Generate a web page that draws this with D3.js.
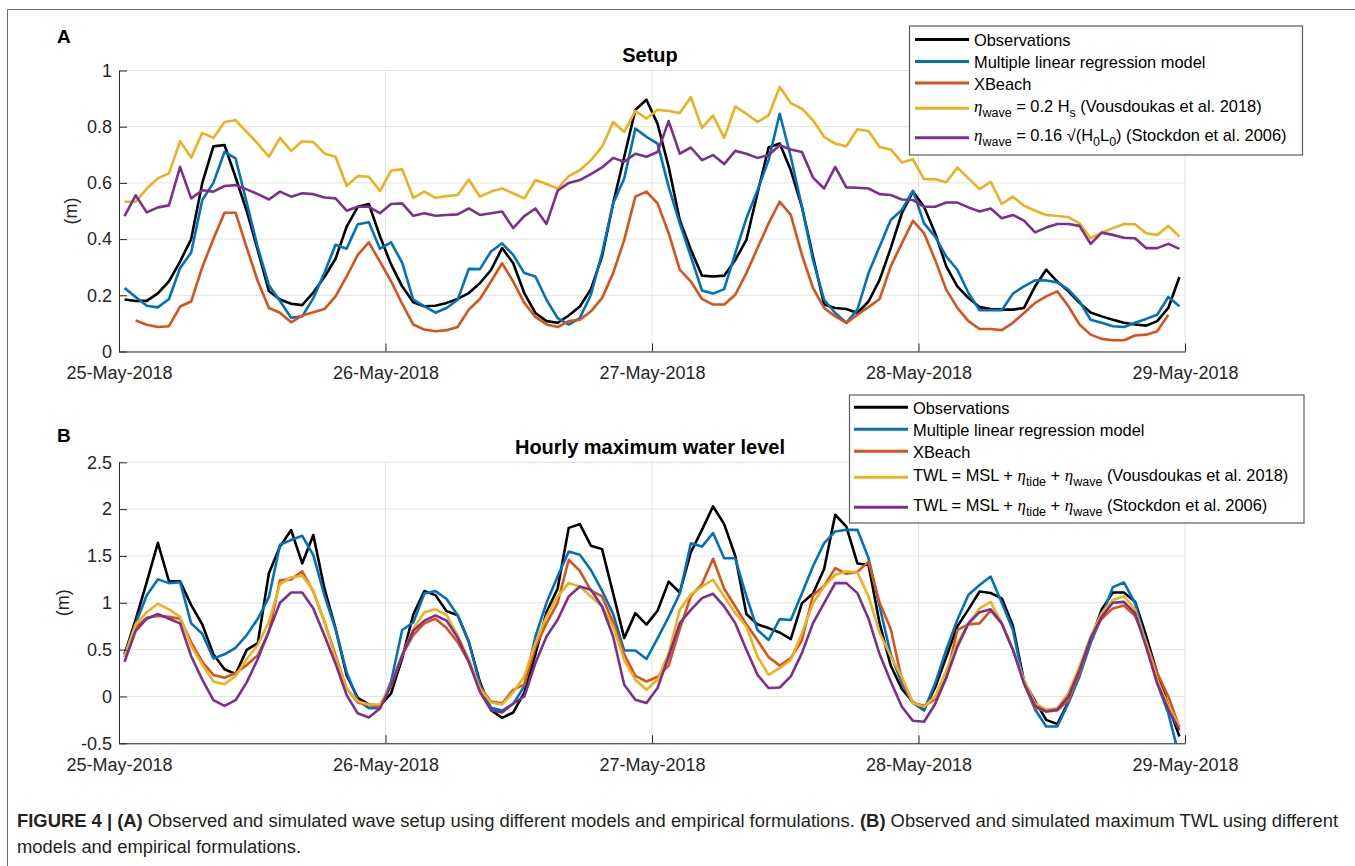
<!DOCTYPE html>
<html>
<head>
<meta charset="utf-8">
<script src="https://cdn.jsdelivr.net/npm/d3@7"></script>
<style>
  body { margin: 0; background: #fff; }
  svg text { font-family: "Liberation Sans", Arial, sans-serif; }
</style>
</head>
<body>
<div id="fig"></div>
<script>
// tick labels and series (hourly values; first sample at 00:30 on 25 May)
const dayTicks = ["25-May-2018", "26-May-2018", "27-May-2018", "28-May-2018", "29-May-2018"];
const setupYTicks = [0, 0.2, 0.4, 0.6, 0.8, 1];
const twlYTicks = [-0.5, 0, 0.5, 1, 1.5, 2, 2.5];
const seriesColors = ["#000000", "#0072BD", "#D95319", "#EDB120", "#7E2F8E"];

// (A) Setup (m)
const setupObs = [0.185,0.18,0.18,0.207,0.25,0.32,0.40,0.60,0.73,0.735,0.62,0.50,0.36,0.215,0.185,0.17,0.165,0.21,0.265,0.33,0.444,0.515,0.525,0.41,
  0.31,0.232,0.175,0.161,0.163,0.173,0.187,0.208,0.243,0.29,0.368,0.314,0.208,0.137,0.108,0.102,0.128,0.16,0.222,0.338,0.527,0.693,0.86,0.896,
  0.81,0.657,0.468,0.362,0.27,0.267,0.27,0.326,0.397,0.563,0.726,0.74,0.645,0.515,0.338,0.167,0.155,0.151,0.137,0.178,0.255,0.368,0.492,0.569,
  0.515,0.421,0.303,0.232,0.19,0.158,0.151,0.149,0.149,0.155,0.232,0.291,0.249,0.214,0.173,0.139,0.125,0.113,0.102,0.096,0.092,0.108,0.155,0.265];
const setupMLR = [0.226,0.194,0.163,0.157,0.187,0.297,0.352,0.539,0.60,0.71,0.687,0.53,0.37,0.236,0.18,0.12,0.125,0.19,0.28,0.38,0.366,0.453,0.46,0.366,
  0.388,0.316,0.185,0.161,0.138,0.155,0.184,0.294,0.293,0.356,0.385,0.344,0.279,0.267,0.184,0.119,0.096,0.119,0.202,0.35,0.527,0.616,0.793,0.764,
  0.74,0.586,0.456,0.338,0.217,0.206,0.222,0.35,0.474,0.574,0.681,0.846,0.693,0.515,0.326,0.184,0.137,0.102,0.149,0.279,0.374,0.468,0.504,0.572,
  0.456,0.409,0.338,0.291,0.208,0.147,0.147,0.147,0.206,0.232,0.253,0.253,0.246,0.22,0.178,0.113,0.102,0.09,0.087,0.102,0.116,0.131,0.194,0.161];
const setupXBeach = [null,0.11,0.095,0.087,0.09,0.16,0.178,0.30,0.40,0.494,0.494,0.37,0.25,0.155,0.138,0.104,0.128,0.14,0.151,0.196,0.267,0.344,0.388,0.32,
  0.25,0.17,0.096,0.078,0.072,0.076,0.087,0.149,0.187,0.249,0.314,0.249,0.173,0.123,0.096,0.087,0.108,0.113,0.143,0.19,0.279,0.397,0.551,0.569,
  0.527,0.421,0.291,0.249,0.187,0.167,0.167,0.202,0.279,0.368,0.456,0.533,0.486,0.344,0.226,0.155,0.125,0.102,0.131,0.158,0.187,0.303,0.385,0.465,
  0.421,0.326,0.22,0.155,0.108,0.08,0.08,0.076,0.102,0.137,0.173,0.196,0.214,0.161,0.096,0.06,0.045,0.04,0.04,0.057,0.06,0.072,0.131,null];
const setupVous = [0.533,0.533,0.58,0.616,0.634,0.748,0.69,0.778,0.76,0.817,0.823,0.781,0.74,0.693,0.76,0.714,0.748,0.745,0.705,0.693,0.59,0.624,0.622,0.571,
  0.643,0.649,0.547,0.569,0.547,0.553,0.557,0.612,0.551,0.569,0.58,0.563,0.545,0.61,0.596,0.58,0.624,0.645,0.681,0.728,0.817,0.781,0.856,0.829,
  0.86,0.856,0.849,0.905,0.796,0.84,0.76,0.872,0.846,0.817,0.84,0.941,0.884,0.864,0.823,0.764,0.74,0.73,0.791,0.785,0.728,0.719,0.673,0.684,
  0.613,0.613,0.602,0.655,0.616,0.578,0.604,0.525,0.551,0.519,0.501,0.486,0.482,0.478,0.456,0.403,0.423,0.439,0.454,0.453,0.421,0.415,0.447,0.409];
const setupStock = [0.482,0.556,0.495,0.513,0.52,0.657,0.545,0.574,0.569,0.589,0.592,0.577,0.56,0.541,0.569,0.551,0.563,0.56,0.548,0.545,0.501,0.515,0.515,0.492,
  0.525,0.527,0.483,0.492,0.483,0.486,0.488,0.509,0.486,0.492,0.498,0.439,0.482,0.509,0.454,0.572,0.6,0.61,0.631,0.655,0.689,0.675,0.704,0.693,
  0.71,0.82,0.704,0.726,0.681,0.699,0.667,0.714,0.704,0.689,0.699,0.734,0.719,0.71,0.619,0.58,0.657,0.584,0.583,0.58,0.56,0.557,0.541,0.539,
  0.515,0.515,0.53,0.53,0.513,0.498,0.509,0.474,0.486,0.466,0.424,0.441,0.454,0.454,0.447,0.383,0.423,0.415,0.405,0.403,0.368,0.368,0.383,0.365];

// (B) Hourly maximum water level (m)
const twlObs = [0.45,0.82,1.22,1.64,1.23,1.23,0.975,0.77,0.45,0.29,0.24,0.497,0.57,1.315,1.6,1.777,1.42,1.724,1.153,0.726,0.228,-0.014,-0.085,-0.1,
  0.032,0.406,0.875,1.125,1.082,0.911,0.868,0.584,0.157,-0.146,-0.228,-0.171,0.04,0.45,0.9,1.15,1.8,1.84,1.61,1.573,1.1,0.623,0.89,0.767,
  0.915,1.226,1.11,1.54,1.778,2.03,1.84,1.5,0.88,0.77,0.73,0.683,0.612,0.995,1.1,1.36,1.94,1.813,1.42,1.404,0.78,0.33,0.08,-0.06,
  -0.14,0.096,0.42,0.75,0.93,1.12,1.105,1.048,0.755,0.165,-0.05,-0.25,-0.295,-0.06,0.25,0.6,0.93,1.11,1.11,1.012,0.648,0.25,-0.1,-0.428];
const twlMLR = [0.45,0.78,1.08,1.25,1.21,1.22,0.78,0.67,0.405,0.45,0.52,0.655,0.83,1.06,1.62,1.67,1.715,1.51,1.08,0.72,0.26,-0.04,-0.125,-0.125,
  0.157,0.71,0.79,1.1,1.125,1.04,0.868,0.584,0.13,-0.12,-0.15,-0.08,0.11,0.64,1.0,1.28,1.548,1.512,1.35,1.13,0.88,0.49,0.49,0.4,
  0.62,0.85,1.1,1.635,1.6,1.745,1.475,1.475,1.07,0.71,0.603,0.826,0.817,1.1,1.39,1.637,1.762,1.779,1.779,1.477,0.96,0.45,0.14,-0.07,
  -0.15,0.14,0.5,0.82,1.085,1.19,1.28,1.0,0.71,0.14,-0.14,-0.32,-0.32,-0.07,0.214,0.57,0.854,1.167,1.217,0.996,0.57,0.14,-0.18,-0.65];
const twlXBeach = [0.42,0.74,0.84,0.86,0.85,0.83,0.58,0.37,0.23,0.2,0.25,0.335,0.44,0.69,1.24,1.25,1.335,1.12,0.8,0.44,0.085,-0.064,-0.093,-0.11,
  0.12,0.44,0.655,0.78,0.83,0.73,0.58,0.37,0.1,-0.055,-0.072,0.07,0.13,0.53,0.78,1.0,1.46,1.34,1.13,1.07,0.79,0.45,0.22,0.16,
  0.21,0.33,0.72,1.07,1.2,1.47,1.15,0.96,0.77,0.6,0.42,0.33,0.41,0.6,1.08,1.18,1.37,1.31,1.33,1.44,1.0,0.72,0.18,-0.07,
  -0.1,-0.03,0.2,0.71,0.77,0.78,0.92,0.78,0.5,0.15,-0.12,-0.16,-0.15,-0.04,0.25,0.62,0.83,0.94,0.97,0.86,0.58,0.25,0.0,-0.33];
const twlVous = [0.42,0.77,0.9,0.99,0.93,0.85,0.54,0.34,0.16,0.13,0.22,0.4,0.55,0.8,1.2,1.27,1.29,1.13,0.8,0.41,0.085,-0.05,-0.085,-0.085,
  0.12,0.44,0.72,0.9,0.93,0.87,0.65,0.4,0.085,-0.064,-0.085,0.043,0.214,0.569,0.854,1.068,1.21,1.174,1.068,0.961,0.747,0.391,0.178,0.071,
  0.178,0.463,0.925,1.09,1.174,1.246,1.068,0.89,0.747,0.427,0.231,0.302,0.391,0.676,0.996,1.174,1.299,1.335,1.324,1.068,0.68,0.43,0.21,-0.07,
  -0.11,0.0,0.28,0.57,0.78,0.94,1.01,0.78,0.5,0.18,-0.07,-0.14,-0.125,0.036,0.32,0.64,0.89,1.03,1.07,0.93,0.57,0.18,-0.1,-0.32];
const twlStock = [0.37,0.7,0.83,0.88,0.83,0.78,0.43,0.18,-0.04,-0.1,-0.04,0.15,0.4,0.7,1.0,1.11,1.11,0.94,0.65,0.35,0.014,-0.18,-0.224,-0.128,
  0.12,0.44,0.7,0.81,0.865,0.81,0.63,0.37,0.05,-0.146,-0.17,-0.075,0.0,0.356,0.64,0.819,1.068,1.174,1.139,0.961,0.64,0.125,-0.036,-0.07,
  0.09,0.427,0.783,0.925,1.05,1.096,0.961,0.783,0.498,0.231,0.09,0.096,0.214,0.463,0.783,0.996,1.21,1.21,1.103,0.83,0.45,0.16,-0.11,-0.26,
  -0.27,-0.08,0.2,0.53,0.78,0.9,0.93,0.78,0.5,0.14,-0.1,-0.16,-0.14,0.0,0.28,0.62,0.85,1.0,1.01,0.89,0.53,0.14,-0.14,-0.36];

// legend labels: k = "eta" (greek), "sub" (subscript), otherwise normal text
const legendA = [
  [{t: "Observations"}],
  [{t: "Multiple linear regression model"}],
  [{t: "XBeach"}],
  [{t: "η", k: "eta"}, {t: "wave", k: "sub"}, {t: " = 0.2 H"}, {t: "s", k: "sub"}, {t: " (Vousdoukas et al. 2018)"}],
  [{t: "η", k: "eta"}, {t: "wave", k: "sub"}, {t: " = 0.16 √(H"}, {t: "0", k: "sub"}, {t: "L"}, {t: "0", k: "sub"}, {t: ") (Stockdon et al. 2006)"}]
];
const legendB = [
  [{t: "Observations"}],
  [{t: "Multiple linear regression model"}],
  [{t: "XBeach"}],
  [{t: "TWL = MSL + "}, {t: "η", k: "eta"}, {t: "tide", k: "sub"}, {t: " + "}, {t: "η", k: "eta"}, {t: "wave", k: "sub"}, {t: " (Vousdoukas et al. 2018)"}],
  [{t: "TWL = MSL + "}, {t: "η", k: "eta"}, {t: "tide", k: "sub"}, {t: " + "}, {t: "η", k: "eta"}, {t: "wave", k: "sub"}, {t: " (Stockdon et al. 2006)"}]
];

const parseDay = d3.utcParse("%d-%b-%Y");
const hourTimes = d3.range(96).map(i => new Date(Date.UTC(2018, 4, 25, i, 30)));

const svg = d3.select("#fig").append("svg")
    .attr("width", 1355)
    .attr("height", 866);

// figure frame
svg.append("path")
    .attr("d", "M7.5,866V9.5H1355")
    .attr("fill", "none")
    .attr("stroke", "#6b6b6b")
    .attr("stroke-width", 1);

function drawPanel(opt) {
    const x = d3.scaleUtc()
        .domain([parseDay(dayTicks[0]), parseDay(dayTicks[dayTicks.length - 1])])
        .range([opt.left, opt.right]);
    const y = d3.scaleLinear()
        .domain(opt.yDomain)
        .range([opt.bottom, opt.top]);

    const g = svg.append("g");

    // grid
    g.append("g").selectAll("line").data(opt.yTicks).join("line")
        .attr("x1", opt.left).attr("x2", opt.right)
        .attr("y1", d => y(d)).attr("y2", d => y(d))
        .attr("stroke", "#e2e2e2");
    g.append("g").selectAll("line").data(dayTicks.slice(1)).join("line")
        .attr("x1", d => x(parseDay(d))).attr("x2", d => x(parseDay(d)))
        .attr("y1", opt.top).attr("y2", opt.bottom)
        .attr("stroke", "#e2e2e2");

    svg.append("clipPath").attr("id", "clip-" + opt.id)
        .append("rect")
        .attr("x", opt.left).attr("y", opt.top)
        .attr("width", opt.right - opt.left).attr("height", opt.bottom - opt.top);

    const line = d3.line()
        .defined(d => d[1] != null)
        .x(d => x(d[0]))
        .y(d => y(d[1]));

    opt.series.forEach((s, i) => {
        g.append("path")
            .datum(hourTimes.map((t, k) => [t, s[k]]))
            .attr("clip-path", "url(#clip-" + opt.id + ")")
            .attr("fill", "none")
            .attr("stroke", seriesColors[i])
            .attr("stroke-width", 2.6)
            .attr("stroke-linejoin", "round")
            .attr("d", line);
    });

    // axes
    g.append("g")
        .attr("transform", "translate(0," + opt.bottom + ")")
        .call(d3.axisBottom(x)
            .tickValues(dayTicks.map(parseDay))
            .tickFormat((d, i) => dayTicks[i])
            .tickSize(-8).tickSizeOuter(0).tickPadding(opt.xPad))
        .call(a => a.attr("font-size", 18).attr("font-family", null).attr("color", "#262626"));

    g.append("g")
        .attr("transform", "translate(" + opt.left + ",0)")
        .call(d3.axisLeft(y)
            .tickValues(opt.yTicks)
            .tickFormat(d => String(d))
            .tickSize(-8).tickSizeOuter(0).tickPadding(7))
        .call(a => a.attr("font-size", 18).attr("font-family", null).attr("color", "#262626"));

    svg.append("text")
        .attr("transform", "translate(" + opt.ylabX + "," + ((opt.top + opt.bottom) / 2) + ") rotate(-90)")
        .attr("text-anchor", "middle")
        .attr("font-size", 18)
        .attr("fill", "#262626")
        .text("(m)");

    svg.append("text")
        .attr("x", (opt.left + opt.right) / 2 - 2)
        .attr("y", opt.titleY)
        .attr("text-anchor", "middle")
        .attr("font-size", 20)
        .attr("font-weight", "bold")
        .attr("fill", "#000")
        .text(opt.title);

    svg.append("text")
        .attr("x", 57)
        .attr("y", opt.panelY)
        .attr("font-size", 19)
        .attr("font-weight", "bold")
        .text(opt.panel);
}

function drawLegend(box, rows) {
    svg.append("rect")
        .attr("x", box.x).attr("y", box.y)
        .attr("width", box.w).attr("height", box.h)
        .attr("fill", "#fff")
        .attr("stroke", "#5c5c5c")
        .attr("stroke-width", 1.2);
    rows.forEach((parts, i) => {
        const ly = box.rowY[i];
        svg.append("line")
            .attr("x1", box.lx0).attr("x2", box.lx1)
            .attr("y1", ly).attr("y2", ly)
            .attr("stroke", seriesColors[i])
            .attr("stroke-width", 3);
        const hasSub = parts.some(p => p.k === "sub");
        const t = svg.append("text")
            .attr("x", box.tx)
            .attr("y", ly + (hasSub ? 3.5 : 6.8))
            .attr("font-size", 16.4)
            .attr("fill", "#000");
        let shift = 0;
        parts.forEach(p => {
            const ts = t.append("tspan").text(p.t);
            const target = p.k === "sub" ? 5 : 0;
            if (target !== shift) { ts.attr("dy", target - shift); shift = target; }
            if (p.k === "sub") ts.attr("font-size", 12.5);
            if (p.k === "eta") ts.attr("font-family", "'Liberation Serif', serif").attr("font-style", "italic").attr("font-size", 17);
        });
    });
}

drawPanel({
    id: "a", left: 119, right: 1185, top: 70.5, bottom: 351.5,
    yDomain: [0, 1], yTicks: setupYTicks, xPad: 15,
    series: [setupObs, setupMLR, setupXBeach, setupVous, setupStock],
    title: "Setup", titleY: 62, panel: "A", panelY: 43, ylabX: 77
});
drawPanel({
    id: "b", left: 119, right: 1185, top: 462.3, bottom: 743.3,
    yDomain: [-0.5, 2.5], yTicks: twlYTicks, xPad: 14.5,
    series: [twlObs, twlMLR, twlXBeach, twlVous, twlStock],
    title: "Hourly maximum water level", titleY: 454, panel: "B", panelY: 442, ylabX: 69
});

drawLegend({x: 909.5, y: 26, w: 393, h: 129, lx0: 915, lx1: 969, tx: 974,
            rowY: [39.5, 61.5, 83, 108.3, 137.7]}, legendA);
drawLegend({x: 849.5, y: 395, w: 454.5, h: 128, lx0: 854, lx1: 908, tx: 913,
            rowY: [407.3, 429.3, 451.3, 477.3, 507.3]}, legendB);

// caption: condensed look, squeeze glyphs to the measured line width
const capFont = "'Liberation Sans Narrow', 'Liberation Sans', Arial, sans-serif";
const cap1 = svg.append("text")
    .attr("x", 17).attr("y", 827)
    .attr("font-size", 17.5).attr("font-family", capFont).attr("fill", "#231f20");
cap1.append("tspan").attr("font-weight", "bold").text("FIGURE 4 | (A)");
cap1.append("tspan").text(" Observed and simulated wave setup using different models and empirical formulations. ");
cap1.append("tspan").attr("font-weight", "bold").text("(B)");
cap1.append("tspan").text(" Observed and simulated maximum TWL using different");
const cap2 = svg.append("text")
    .attr("x", 17).attr("y", 853)
    .attr("font-size", 17.5).attr("font-family", capFont).attr("fill", "#231f20")
    .text("models and empirical formulations.");
const squeeze = 1321 / cap1.node().getComputedTextLength();
cap1.attr("textLength", 1321).attr("lengthAdjust", "spacingAndGlyphs");
cap2.attr("textLength", cap2.node().getComputedTextLength() * squeeze).attr("lengthAdjust", "spacingAndGlyphs");
</script>
</body>
</html>
